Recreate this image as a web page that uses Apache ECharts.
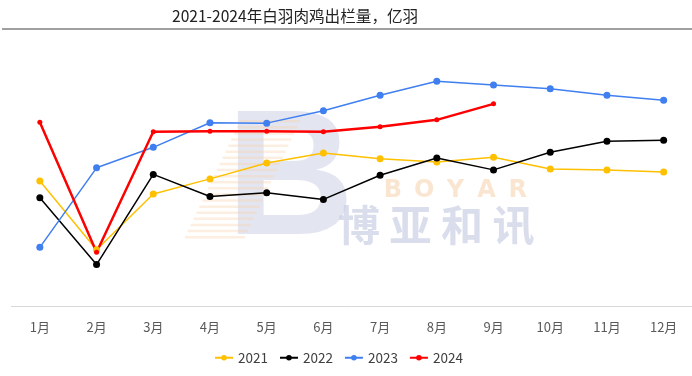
<!DOCTYPE html>
<html>
<head>
<meta charset="utf-8">
<script src="https://cdn.jsdelivr.net/npm/echarts@6/dist/echarts.min.js"></script>
<style>
html, body { margin: 0; padding: 0; background: #fff; }
#chart { width: 692px; height: 376px; }
</style>
</head>
<body>
<div id="chart"></div>
<script>
var months = ['1月', '2月', '3月', '4月', '5月', '6月', '7月', '8月', '9月', '10月', '11月', '12月'];
var data2021 = [9.05, 7.37, 8.73, 9.10, 9.49, 9.73, 9.59, 9.51, 9.63, 9.34, 9.32, 9.27];
var data2022 = [8.64, 7.01, 9.21, 8.67, 8.76, 8.60, 9.19, 9.61, 9.32, 9.75, 10.02, 10.04];
var data2023 = [7.43, 9.37, 9.87, 10.47, 10.46, 10.76, 11.14, 11.48, 11.39, 11.30, 11.14, 11.02];
var data2024 = [10.48, 7.31, 10.25, 10.26, 10.26, 10.25, 10.37, 10.54, 10.93];

var font = '"Noto Sans CJK SC", "Noto Sans", sans-serif';

function line(name, data, color, width, size) {
    return {
        name: name,
        type: 'line',
        data: data,
        symbol: 'circle',
        symbolSize: size,
        lineStyle: { color: color, width: width },
        itemStyle: { color: color },
        z: 3
    };
}

// 水印 (logo)
var marks = [
    { type: 'rect', shape: { x: 2, y: 28, width: 690, height: 2 }, style: { fill: '#a0a0a0' } },
    { type: 'text', left: 226, top: 96, z: 0,
      style: { text: 'B', font: 'bold 178px "Liberation Sans"', fill: 'rgba(200,206,228,0.5)' } }
];
for (var i = 0; i < 20; i++) {
    var sx = 240 - i * 2.9;
    marks.push({ type: 'rect', z: 0, shape: { x: sx, y: 120 + i * 6.1, width: 60, height: 2.5 },
                 style: { fill: 'rgba(245,205,165,0.35)' } });
}
'BOYAR'.split('').forEach(function (ch, k) {
    marks.push({ type: 'text', z: 0, x: 393 + k * 31.2, y: 191,
                 style: { text: ch, font: 'bold 24px "DejaVu Sans"', fill: 'rgba(246,212,178,0.6)',
                          align: 'center', verticalAlign: 'middle' } });
});
'博亚和讯'.split('').forEach(function (ch, k) {
    marks.push({ type: 'text', z: 0, x: 359 + k * 51.5, y: 225,
                 style: { text: ch, font: 'bold 42px "Noto Sans CJK SC"', fill: 'rgba(196,203,226,0.65)',
                          align: 'center', verticalAlign: 'middle' } });
});

var chart = echarts.init(document.getElementById('chart'));
chart.setOption({
    animation: false,
    title: {
        text: '2021-2024年白羽肉鸡出栏量，亿羽',
        left: 167,
        top: 3,
        textStyle: { fontFamily: font, fontSize: 15.6, fontWeight: 'normal', color: '#222' }
    },
    graphic: marks,
    legend: {
        left: 209,
        top: 346,
        itemWidth: 18,
        itemHeight: 7,
        itemGap: 11,
        textStyle: { fontFamily: font, fontSize: 13.5, color: '#404040' },
        data: ['2021', '2022', '2023', '2024']
    },
    grid: { left: 11.5, width: 685, top: 60, bottom: 70 },
    xAxis: {
        type: 'category',
        data: months,
        axisLine: { lineStyle: { color: '#d9d9d9', width: 1 } },
        axisTick: { show: false },
        axisLabel: { fontFamily: font, fontSize: 13, color: '#595959', margin: 15 }
    },
    yAxis: {
        type: 'value',
        min: 6,
        max: 12,
        show: false
    },
    series: [
        line('2021', data2021, '#FFC000', 1.5, 7),
        line('2022', data2022, '#000000', 1.5, 7),
        line('2023', data2023, '#3F7FF0', 1.5, 7),
        line('2024', data2024, '#FF0000', 2.5, 5)
    ]
});
</script>
</body>
</html>
